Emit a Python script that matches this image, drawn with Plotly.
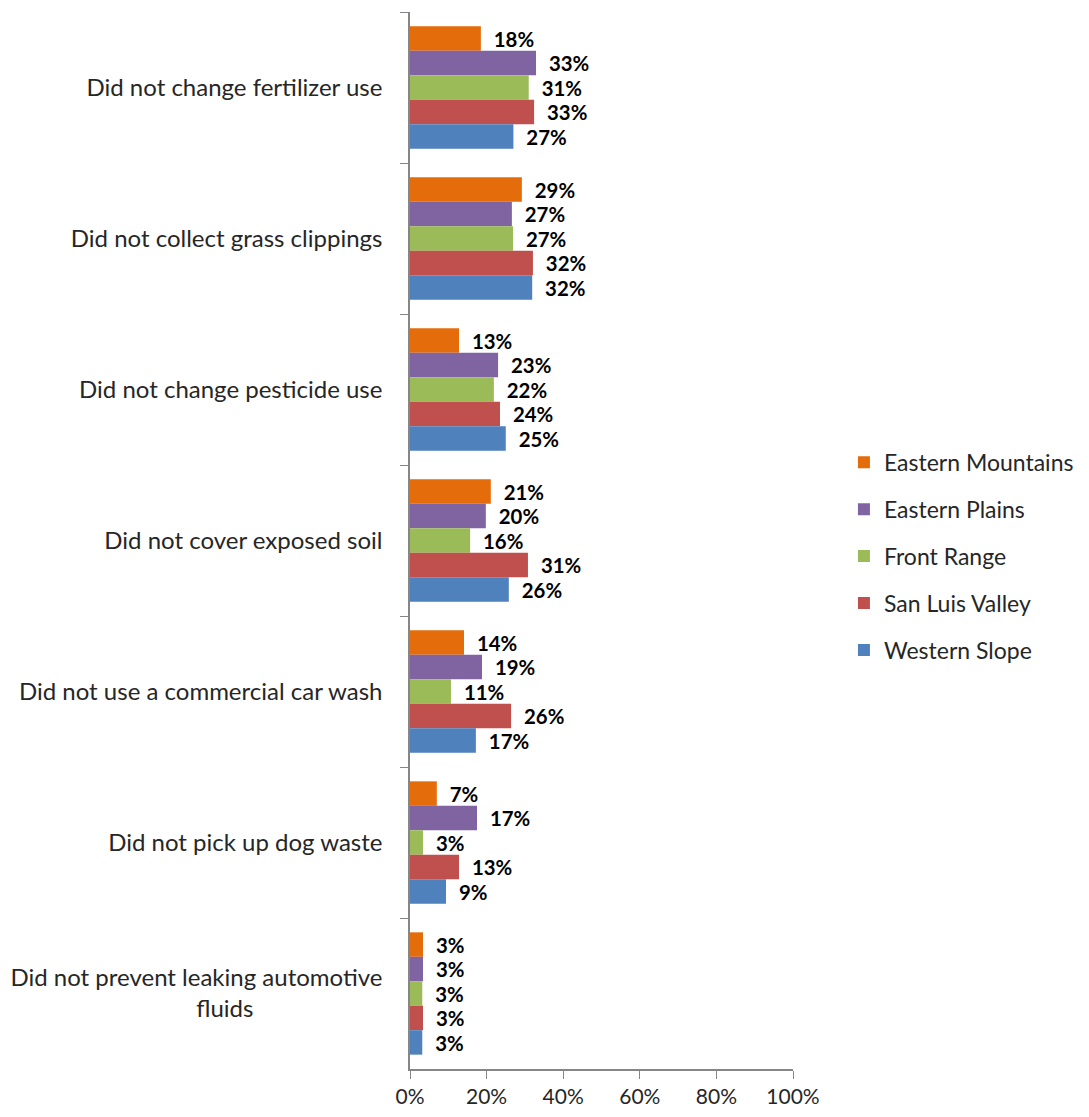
import plotly.graph_objects as go

NB = "\u00a0"
categories = [
    "Did not change fertilizer use",
    "Did not collect grass clippings",
    "Did not change pesticide use",
    "Did not cover exposed soil",
    "Did not use a commercial car wash",
    "Did not pick up dog waste",
    "Did not prevent leaking automotive<br>fluids" + NB * 21,
]
series_names = ["Eastern Mountains", "Eastern Plains", "Front Range", "San Luis Valley", "Western Slope"]
colors = ["#E46C0A", "#8064A2", "#9BBB59", "#C0504D", "#4F81BD"]

eastern_mountains = [18.5, 29.2, 12.8, 21.1, 14.1, 7.0, 3.4]
eastern_plains = [32.9, 26.6, 23.0, 19.8, 18.8, 17.5, 3.4]
front_range = [31.0, 26.9, 21.9, 15.7, 10.7, 3.4, 3.2]
san_luis_valley = [32.4, 32.1, 23.5, 30.8, 26.4, 12.8, 3.4]
western_slope = [27.0, 31.9, 25.0, 25.8, 17.2, 9.4, 3.2]

labels_em = ["18%", "29%", "13%", "21%", "14%", "7%", "3%"]
labels_ep = ["33%", "27%", "23%", "20%", "19%", "17%", "3%"]
labels_fr = ["31%", "27%", "22%", "16%", "11%", "3%", "3%"]
labels_sl = ["33%", "32%", "24%", "31%", "26%", "13%", "3%"]
labels_ws = ["27%", "32%", "25%", "26%", "17%", "9%", "3%"]

values = [eastern_mountains, eastern_plains, front_range, san_luis_valley, western_slope]
labels = [labels_em, labels_ep, labels_fr, labels_sl, labels_ws]

x_ticks = [0, 20, 40, 60, 80, 100]
x_tick_text = ["0%", "20%", "40%", "60%", "80%", "100%"]

FONT = "Lato, Carlito, Calibri, sans-serif"

fig = go.Figure()
for i, name in enumerate(series_names):
    fig.add_trace(go.Bar(
        y=categories, x=values[i], name=name, orientation="h",
        marker=dict(color=colors[i], line=dict(width=0)),
        text=labels[i],
        texttemplate=NB * 2 + "%{text}",
        textposition="outside",
        textfont=dict(family=FONT, size=25, color="#000000", weight="bold"),
        cliponaxis=False,
        legendgroup=name,
    ))

fig.update_layout(
    width=1089, height=1117,
    barmode="group", bargap=0.19, bargroupgap=0,
    plot_bgcolor="white", paper_bgcolor="white",
    margin=dict(l=402, r=304, t=4, b=56, autoexpand=False),
    font=dict(family=FONT, size=24, color="#262626"),
    legend=dict(
        x=1.133, y=0.485, xanchor="left", yanchor="middle",
        font=dict(family=FONT, size=23, color="#262626"),
        tracegroupgap=14, itemwidth=30, traceorder="grouped",
    ),
    xaxis=dict(
        range=[0, 100], tickvals=x_ticks, ticktext=x_tick_text,
        showgrid=False, zeroline=False, showline=True, linecolor="#868686", linewidth=1.5,
        ticks="outside", ticklen=8, tickcolor="#868686",
        tickfont=dict(family=FONT, size=21, color="#262626"),
    ),
    yaxis=dict(
        categoryorder="array", categoryarray=categories, autorange="reversed",
        showgrid=False, showline=True, linecolor="#868686", linewidth=1.5,
        ticks="outside", ticklen=8, tickcolor="#868686", tickson="boundaries",
        tickfont=dict(family=FONT, size=24, color="#262626"),
        ticklabelstandoff=21,
    ),
)

fig.write_html("out.html")
